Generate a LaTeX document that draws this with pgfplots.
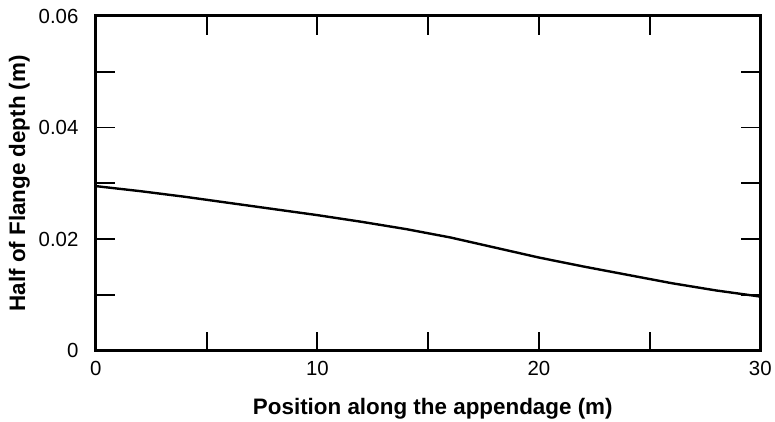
\documentclass[border=0pt]{standalone}
\usepackage{fontspec}
\setmainfont{Liberation Sans}
\usepackage{pgfplots}
\pgfplotsset{compat=1.18}
\begin{document}
\begin{tikzpicture}
\begin{axis}[
name=ax,
scale only axis,
width=665bp,
height=335bp,
xmin=0, xmax=30,
ymin=0, ymax=0.06,
scaled y ticks=false,
xtick={0,5,10,15,20,25,30},
xticklabels={0,,10,,20,,30},
ytick={0,0.01,0.02,0.03,0.04,0.05,0.06},
yticklabels={0,,0.02,,0.04,,0.06},
tick align=inside,
major tick length=19bp,
tick style={line width=1.8bp, black},
axis line style={line width=3bp},
tick label style={font=\fontsize{20.5}{22}\selectfont},
xticklabel style={yshift=-7bp},
yticklabel style={xshift=-14bp},
label style={font=\fontsize{22.5}{25}\selectfont\bfseries},
xlabel={Position along the appendage (m)},
ylabel={Half of Flange depth (m)},
xlabel style={at={(axis description cs:0.507,-0.19)}, anchor=base, inner sep=0pt},
ylabel style={at={(axis description cs:-0.0992,0.5)}, anchor=south, inner sep=0pt},
]
\addplot[black, line width=2.4bp] coordinates {
(0,0.0295) (2,0.0286) (4,0.0276) (6,0.0265) (8,0.0254) (10,0.0243)
(12,0.0231) (14,0.0218) (16,0.0203) (18,0.0185) (20,0.0167)
(22,0.0151) (24,0.0136) (26,0.0121) (28,0.0108) (30,0.0097)
};
\end{axis}
\path ([shift={(-96bp,-71bp)}]ax.south west) ([shift={(14bp,16bp)}]ax.north east);
\end{tikzpicture}
\end{document}
